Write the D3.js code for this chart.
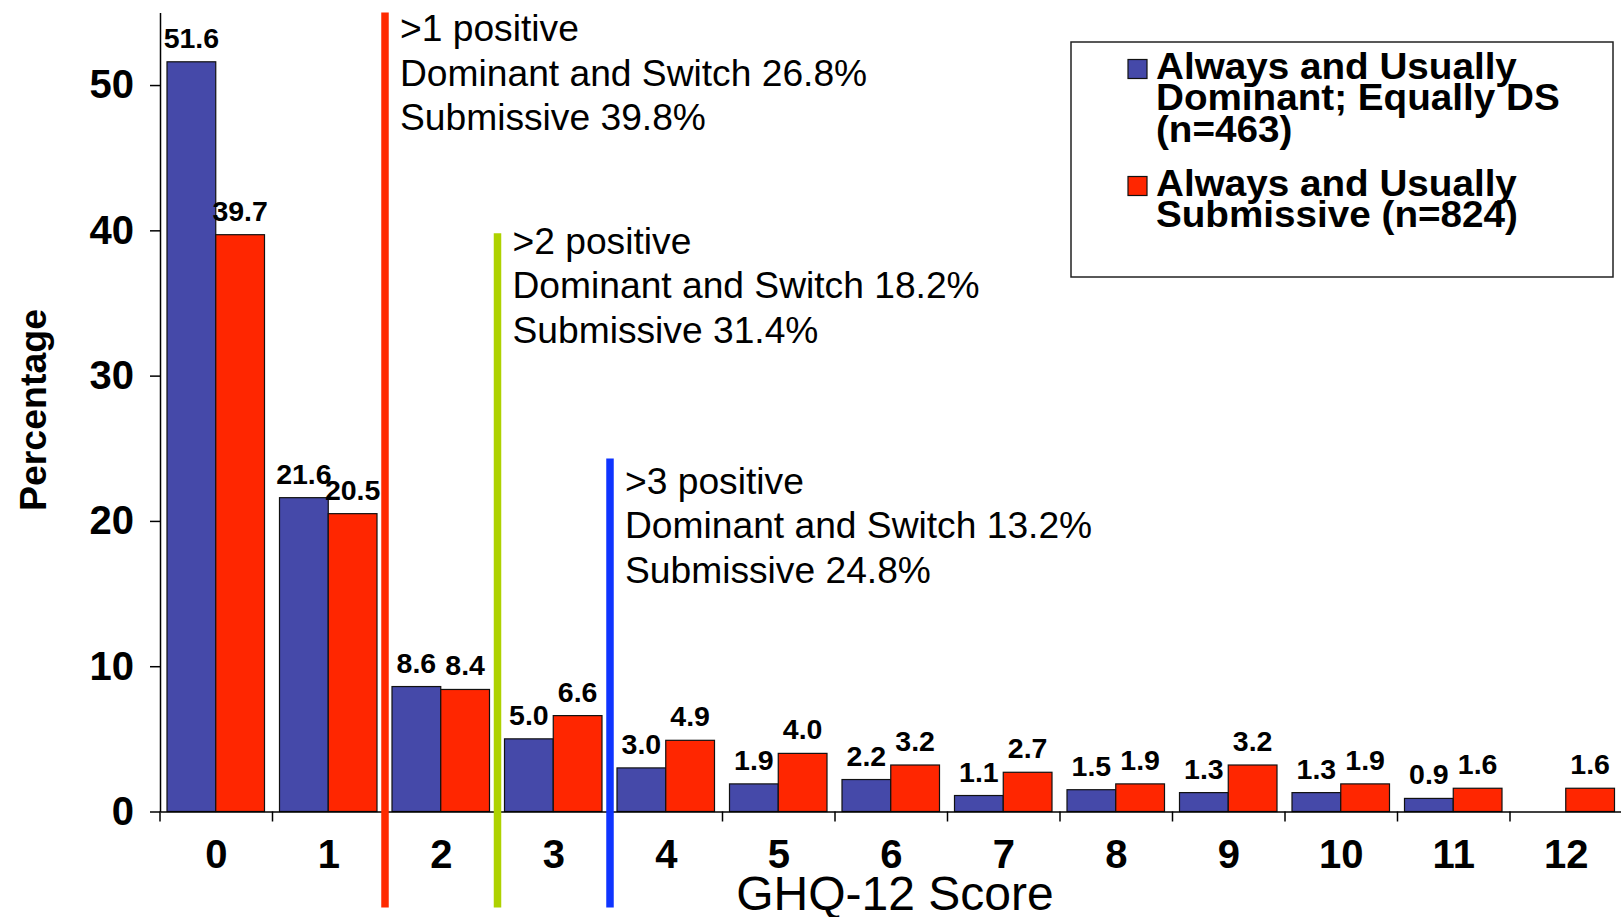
<!DOCTYPE html>
<html>
<head>
<meta charset="utf-8">
<script src="https://cdn.jsdelivr.net/npm/d3@7"></script>
<style>
  body { margin: 0; background: #fff; }
  text { font-family: "Liberation Sans", Arial, Helvetica, sans-serif; }
</style>
</head>
<body>
<div id="chart"></div>
<script>
// GHQ-12 score distribution, two groups
const scores = ["0","1","2","3","4","5","6","7","8","9","10","11","12"];
const dominantPct = [51.6, 21.6, 8.6, 5.0, 3.0, 1.9, 2.2, 1.1, 1.5, 1.3, 1.3, 0.9, null];
const submissivePct = [39.7, 20.5, 8.4, 6.6, 4.9, 4.0, 3.2, 2.7, 1.9, 3.2, 1.9, 1.6, 1.6];
const yTicks = [0, 10, 20, 30, 40, 50];

const legendLines = [
  ["Always and Usually", "Dominant; Equally DS", "(n=463)"],
  ["Always and Usually", "Submissive (n=824)"]
];

// cutoff lines sit on the left edge of these score bands
const cutoffAt = ["2", "3", "4"];
const cutoffTop = [55, 39.8, 24.3];
const cutoffTextY = [53.9, 39.3, 22.75];
const cutoffTitles = [">1 positive", ">2 positive", ">3 positive"];
const cutoffDominant = [26.8, 18.2, 13.2];
const cutoffSubmissive = [39.8, 31.4, 24.8];

const colors = ["#4549A9", "#FF2600"];
const cutoffColors = ["#FF2A00", "#AED200", "#0F34FF"];

const W = 1621, H = 917;
const svg = d3.select("#chart").append("svg")
  .attr("width", W).attr("height", H);

const x0 = d3.scaleBand().domain(scores).range([160, 160 + 13 * 112.5]);
const x1 = d3.scaleBand().domain([0, 1]).range([7, x0.bandwidth() - 8]);
const y = d3.scaleLinear().domain([0, 55]).range([811.5, 12.4]);

// bars
scores.forEach(function (s, i) {
  [dominantPct[i], submissivePct[i]].forEach(function (v, j) {
    if (v == null) return;
    svg.append("rect")
      .attr("x", x0(s) + x1(j))
      .attr("y", y(v))
      .attr("width", x1.bandwidth())
      .attr("height", y(0) - y(v))
      .attr("fill", colors[j])
      .attr("stroke", "#111")
      .attr("stroke-width", 1.2);
    svg.append("text")
      .attr("x", x0(s) + x1(j) + x1.bandwidth() / 2)
      .attr("y", y(v) - 14)
      .attr("text-anchor", "middle")
      .style("font-size", "28.5px")
      .style("font-weight", "bold")
      .text(v.toFixed(1));
  });
});

// y axis
const yAxis = svg.append("g")
  .attr("transform", "translate(160,0)")
  .call(d3.axisLeft(y).tickValues(yTicks).tickSize(10).tickSizeOuter(0).tickPadding(16));
yAxis.selectAll("text").style("font-size", "40px").style("font-weight", "bold").attr("fill", "#000");
yAxis.selectAll("line").attr("stroke", "#000").attr("stroke-width", 1.5);
yAxis.select(".domain").attr("stroke", "#000").attr("stroke-width", 1.5);

// x axis: labels at band centres, ticks at band edges
const xAxis = svg.append("g")
  .attr("transform", "translate(0," + y(0) + ")")
  .call(d3.axisBottom(x0).tickSize(0).tickSizeOuter(0).tickPadding(28));
xAxis.selectAll("text").style("font-size", "40px").style("font-weight", "bold").attr("fill", "#000");
xAxis.select(".domain").attr("stroke", "#000").attr("stroke-width", 1.5);
xAxis.selectAll(".edge")
  .data(scores)
  .enter().append("line")
  .attr("x1", d => x0(d)).attr("x2", d => x0(d))
  .attr("y1", 0).attr("y2", 10)
  .attr("stroke", "#000").attr("stroke-width", 1.5);

// axis titles
svg.append("text")
  .attr("x", 895).attr("y", 910)
  .attr("text-anchor", "middle")
  .style("font-size", "48px")
  .text("GHQ-12 Score");

svg.append("text")
  .attr("transform", "translate(33,410) rotate(-90)")
  .attr("text-anchor", "middle")
  .attr("dy", "0.35em")
  .style("font-size", "37.5px")
  .style("font-weight", "bold")
  .text("Percentage");

// cutoff lines + annotations
cutoffAt.forEach(function (s, i) {
  const lx = x0(s);
  svg.append("line")
    .attr("x1", lx).attr("x2", lx)
    .attr("y1", y(cutoffTop[i])).attr("y2", y(-6.6))
    .attr("stroke", cutoffColors[i])
    .attr("stroke-width", 7.5);
  const lines = [cutoffTitles[i],
    "Dominant and Switch " + cutoffDominant[i].toFixed(1) + "%",
    "Submissive " + cutoffSubmissive[i].toFixed(1) + "%"];
  lines.forEach(function (t, k) {
    svg.append("text")
      .attr("x", lx + 15)
      .attr("y", y(cutoffTextY[i]) + k * 44.5)
      .attr("dy", "0.35em")
      .style("font-size", "37.2px")
      .text(t);
  });
});

// legend
const lg = svg.append("g");
lg.append("rect")
  .attr("x", 1071).attr("y", 42)
  .attr("width", 542).attr("height", 235)
  .attr("fill", "#fff")
  .attr("stroke", "#222").attr("stroke-width", 1.5);
const legendY = [66, 183];
legendLines.forEach(function (lines, i) {
  lg.append("rect")
    .attr("x", 1128).attr("y", legendY[i] + 3 - 9.5)
    .attr("width", 19).attr("height", 19)
    .attr("fill", colors[i])
    .attr("stroke", "#111").attr("stroke-width", 1.2);
  lines.forEach(function (t, k) {
    lg.append("text")
      .attr("x", 1156)
      .attr("y", legendY[i] + k * 31.5)
      .attr("dy", "0.35em")
      .style("font-size", "37px")
      .style("font-weight", "bold")
      .attr("textLength", null)
      .text(t);
  });
  // horizontal stretch to match the wider legend lettering
  lg.selectAll("text").attr("transform", null);
});
lg.selectAll("text")
  .attr("transform", "translate(1156,0) scale(1.045,1) translate(-1156,0)");
</script>
</body>
</html>
